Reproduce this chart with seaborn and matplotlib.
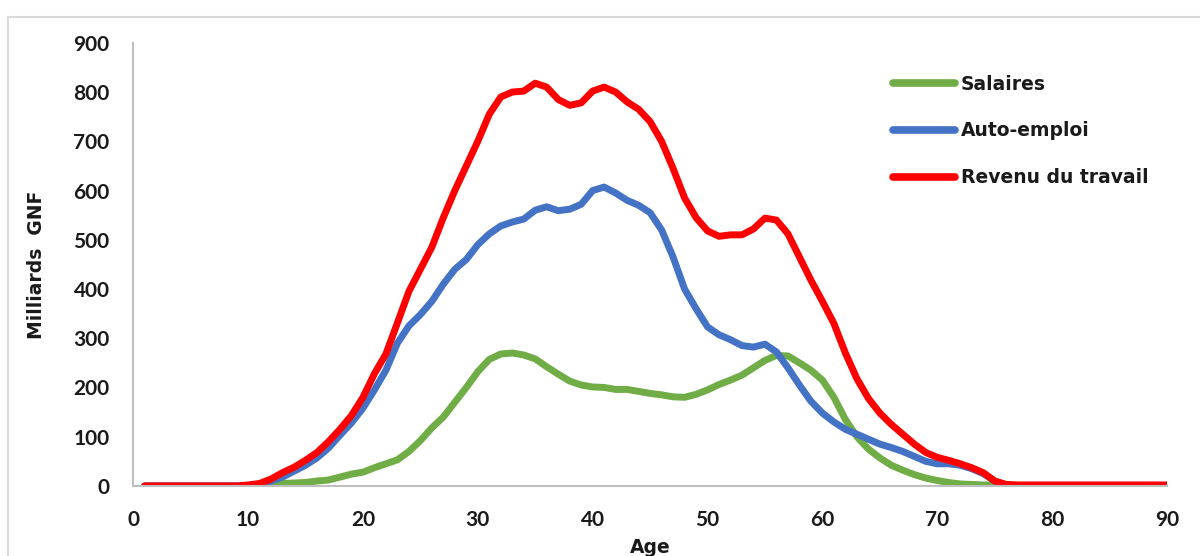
import seaborn as sns
from matplotlib import pyplot as plt
from matplotlib.patches import Rectangle
import pandas as pd

# ages 1..90
ages = list(range(1, 91))

salaires = [0]*11 + [3, 5, 6, 7, 10, 12, 18, 24, 28, 37,
    45, 53, 70, 92, 118, 140, 170, 200, 232, 257,
    268, 270, 266, 258, 242, 227, 213, 205, 201, 200,
    196, 196, 192, 188, 185, 181, 180, 186, 195, 206,
    215, 225, 240, 255, 265, 264, 250, 235, 215, 180,
    135, 100, 75, 57, 42, 32, 23, 16, 11, 7,
    4, 3, 2, 2] + [0]*15

auto_emploi = [0]*11 + [10, 18, 30, 42, 57, 77, 103, 128, 158, 195,
    235, 290, 325, 348, 375, 410, 440, 460, 490, 512,
    528, 536, 542, 560, 567, 559, 562, 572, 600, 607,
    595, 580, 570, 555, 520, 465, 400, 360, 323, 307,
    297, 285, 282, 288, 272, 240, 205, 172, 148, 130,
    115, 105, 95, 85, 78, 70, 60, 50, 45, 45,
    42, 35, 25, 10, 2] + [1]*14

revenu = [0]*9 + [2, 5, 14, 27, 38, 52, 68, 90, 115, 143, 180,
    228, 268, 331, 395, 440, 485, 545, 600, 650, 700,
    755, 790, 800, 802, 818, 810, 785, 773, 778, 802,
    810, 800, 780, 765, 740, 700, 645, 585, 545, 518,
    507, 510, 510, 522, 544, 540, 512, 465, 418, 375,
    330, 270, 218, 178, 148, 125, 105, 85, 68, 58,
    52, 45, 37, 27, 10, 3] + [2]*14

series = ['Salaires', 'Auto-emploi', 'Revenu du travail']
colors = ['#70AD47', '#4472C4', '#FF0000']

df = pd.concat([
    pd.DataFrame({'Age': ages, 'val': salaires, 'serie': series[0]}),
    pd.DataFrame({'Age': ages, 'val': auto_emploi, 'serie': series[1]}),
    pd.DataFrame({'Age': ages, 'val': revenu, 'serie': series[2]}),
])

sns.set_style("white")
plt.rcParams['font.family'] = ['DejaVu Sans']

fig = plt.figure(figsize=(12, 5.56), dpi=100)
ax = fig.add_axes([0.111, 0.126, 0.8615, 0.797])

sns.lineplot(data=df, x='Age', y='val', hue='serie', hue_order=series,
             palette=colors, linewidth=5, ax=ax, solid_capstyle='round')

ax.set_xlim(0, 90)
ax.set_ylim(0, 900)
ax.set_xticks(range(0, 91, 10))
ax.set_yticks(range(0, 901, 100))
ax.tick_params(axis='both', length=0, labelsize=15, colors='#1a1a1a')
ax.tick_params(axis='x', pad=17)
ax.tick_params(axis='y', pad=17)
for lab in ax.get_xticklabels() + ax.get_yticklabels():
    lab.set_fontweight('bold')
    lab.set_fontfamily('Lato')

for s in ['top', 'right']:
    ax.spines[s].set_visible(False)
for s in ['left', 'bottom']:
    ax.spines[s].set_color('#BFBFBF')
    ax.spines[s].set_linewidth(1.5)

ax.set_xlabel('Age', fontsize=13.5, fontweight='bold', labelpad=6, color='#1a1a1a')
ax.set_ylabel('Milliards  GNF', fontsize=13.5, fontweight='bold', labelpad=20, color='#1a1a1a')

leg = ax.legend(loc='upper left', bbox_to_anchor=(0.735, 0.928), frameon=False,
                fontsize=13.5, borderpad=0, borderaxespad=0, handlelength=3.3,
                handletextpad=0.32, labelspacing=1.48)
for t in leg.get_texts():
    t.set_fontweight('bold')
    t.set_color('#1a1a1a')
for h in leg.get_lines():
    h.set_linewidth(5.5)
    h.set_solid_capstyle('round')

# outer chart-area frame
fig.patches.append(Rectangle((8/1200, -0.1), 1.1, 1.1 - 17/556,
                             transform=fig.transFigure, fill=False,
                             edgecolor='#D9D9D9', linewidth=1.5))

fig.savefig('out.png', dpi=100)
